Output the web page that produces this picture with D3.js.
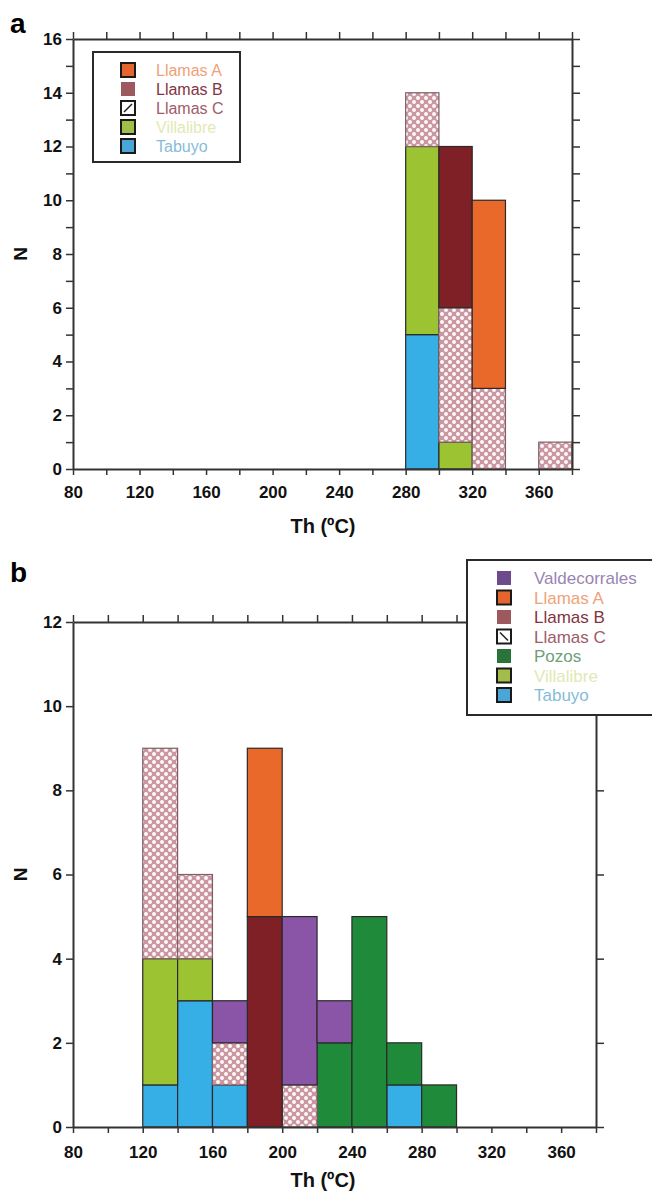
<!DOCTYPE html>
<html>
<head>
<meta charset="utf-8">
<script src="https://cdn.jsdelivr.net/npm/d3@7"></script>
<style>
body { margin: 0; background: #fff; }
svg text { font-family: "Liberation Sans", Arial, sans-serif; }
</style>
</head>
<body>
<svg id="chart" width="652" height="1191"></svg>
<script>
// ////////////////////////////////////////////////////////////////
// Th histograms (a, b)
// ////////////////////////////////////////////////////////////////

// panel a : bins of 20 ºC, counts per locality
const binsA       = [280, 300, 320, 340, 360];
const aTabuyo     = [5, 0, 0, 0, 0];
const aVillalibre = [7, 1, 0, 0, 0];
const aLlamasC    = [2, 5, 3, 0, 1];
const aLlamasB    = [0, 6, 0, 0, 0];
const aLlamasA    = [0, 0, 7, 0, 0];

// panel b
const binsB           = [120, 140, 160, 180, 200, 220, 240, 260, 280];
const bTabuyo         = [1, 3, 1, 0, 0, 0, 0, 1, 0];
const bVillalibre     = [3, 1, 0, 0, 0, 0, 0, 0, 0];
const bPozos          = [0, 0, 0, 0, 0, 2, 5, 1, 1];
const bLlamasC        = [5, 2, 1, 0, 1, 0, 0, 0, 0];
const bLlamasB        = [0, 0, 0, 5, 0, 0, 0, 0, 0];
const bLlamasA        = [0, 0, 0, 4, 0, 0, 0, 0, 0];
const bValdecorrales  = [0, 0, 1, 0, 4, 1, 0, 0, 0];

const xTickValues = [80, 100, 120, 140, 160, 180, 200, 220, 240, 260, 280, 300, 320, 340, 360, 380];
const xTickLabels = [80, 120, 160, 200, 240, 280, 320, 360];
const yTicksA = [0, 1, 2, 3, 4, 5, 6, 7, 8, 9, 10, 11, 12, 13, 14, 15, 16];
const yTicksB = [0, 2, 4, 6, 8, 10, 12];

const legendA = ['Llamas A', 'Llamas B', 'Llamas C', 'Villalibre', 'Tabuyo'];
const legendB = ['Valdecorrales', 'Llamas A', 'Llamas B', 'Llamas C', 'Pozos', 'Villalibre', 'Tabuyo'];

const binWidth = 20;

let styles = {
    'Tabuyo':        { fill: '#36afe6', text: '#86bcd9', swatch: '#4aa6d6', border: true },
    'Villalibre':    { fill: '#9cc432', text: '#e2e9b4', swatch: '#a2be48', border: true },
    'Pozos':         { fill: '#1f8a3a', text: '#6f9e78', swatch: '#2a743a', border: false },
    'Llamas C':      { fill: 'url(#dots)', text: '#a05c68', swatch: 'check', border: true },
    'Llamas B':      { fill: '#7e2026', text: '#83343f', swatch: '#9c5a5e', border: false },
    'Llamas A':      { fill: '#e9692a', text: '#eea27a', swatch: '#e4662e', border: true },
    'Valdecorrales': { fill: '#8a55a7', text: '#9a84b2', swatch: '#6d4a8c', border: false },
};

let svg = d3.select('#chart');

// pink / white dotted pattern for Llamas C
let pat = svg.append('defs')
    .append('pattern')
    .attr('id', 'dots')
    .attr('patternUnits', 'userSpaceOnUse')
    .attr('width', 8)
    .attr('height', 8);
pat.append('rect').attr('width', 8).attr('height', 8).attr('fill', '#c897a2');
pat.append('circle').attr('cx', 2).attr('cy', 2).attr('r', 2).attr('fill', '#fff6f6');
pat.append('circle').attr('cx', 6).attr('cy', 6).attr('r', 2).attr('fill', '#fff6f6');

function styleAxis (g) {
    g.select('.domain').attr('stroke', '#333').attr('stroke-width', 2);
    g.selectAll('.tick line').attr('stroke', '#333').attr('stroke-width', 1.5);
    g.selectAll('.tick text')
        .attr('fill', '#111')
        .attr('font-size', 17)
        .attr('font-weight', 'bold');
}

function drawPanel (p) {
    let x = d3.scaleLinear().domain([80, 380]).range([p.left, p.right]);
    let y = d3.scaleLinear().domain([0, p.yMax]).range([p.bottom, p.top]);

    let rows = p.bins.map((b, i) => {
        let row = { bin: b };
        p.keys.forEach((k) => { row[k] = p.series[k][i]; });
        return row;
    });

    let layers = d3.stack().keys(p.keys)(rows);

    let g = svg.append('g');

    layers.forEach((layer) => {
        g.selectAll(null)
            .data(layer.filter((d) => { return d[1] > d[0]; }))
            .enter()
            .append('rect')
            .attr('x', (d) => { return x(d.data.bin); })
            .attr('width', (d) => { return x(d.data.bin + binWidth) - x(d.data.bin); })
            .attr('y', (d) => { return y(d[1]); })
            .attr('height', (d) => { return y(d[0]) - y(d[1]); })
            .attr('fill', styles[layer.key].fill)
            .attr('stroke', layer.key == 'Llamas C' ? '#7d6068' : '#2a2a2a')
            .attr('stroke-width', 1.2);
    });

    // axes
    g.append('g')
        .attr('transform', 'translate(0,' + p.bottom + ')')
        .call(d3.axisBottom(x).tickValues(xTickValues).tickSize(6).tickSizeOuter(0)
            .tickPadding(p.xPad)
            .tickFormat((d) => { return xTickLabels.includes(d) ? d : ''; }))
        .call(styleAxis);

    g.append('g')
        .attr('transform', 'translate(0,' + p.top + ')')
        .call(d3.axisTop(x).tickValues(xTickValues.filter((d) => { return d % 20 == 0; }))
            .tickSize(7).tickSizeOuter(0).tickFormat(''))
        .call(styleAxis);

    g.append('g')
        .attr('transform', 'translate(' + p.left + ',0)')
        .call(d3.axisLeft(y).tickValues(p.yTicks).tickSize(7).tickSizeOuter(0).tickPadding(4)
            .tickFormat((d) => { return d % 2 ? '' : d; }))
        .call(styleAxis);

    g.append('g')
        .attr('transform', 'translate(' + p.right + ',0)')
        .call(d3.axisRight(y).tickValues(p.yTicks).tickSize(8).tickSizeOuter(0).tickFormat(''))
        .call(styleAxis);

    // titles
    g.append('text')
        .attr('x', 323)
        .attr('y', p.xTitleY)
        .attr('text-anchor', 'middle')
        .attr('font-size', 20)
        .attr('font-weight', 'bold')
        .attr('fill', '#111')
        .text('Th (ºC)');

    g.append('text')
        .attr('transform', 'translate(27,' + ((p.top + p.bottom) / 2) + ') rotate(-90)')
        .attr('text-anchor', 'middle')
        .attr('font-size', 19)
        .attr('font-weight', 'bold')
        .attr('fill', '#111')
        .text('N');

    g.append('text')
        .attr('x', 10)
        .attr('y', p.letterY)
        .attr('font-size', 28)
        .attr('font-weight', 'bold')
        .attr('fill', '#000')
        .text(p.letter);

    // legend
    let lg = g.append('g');
    lg.append('rect')
        .attr('x', p.legend.x)
        .attr('y', p.legend.y)
        .attr('width', p.legend.w)
        .attr('height', p.legend.h)
        .attr('fill', '#fff')
        .attr('stroke', '#2a2a2a')
        .attr('stroke-width', 2);

    let items = lg.selectAll('g.item')
        .data(p.legend.names)
        .enter()
        .append('g')
        .attr('class', 'item')
        .attr('transform', (d, i) => {
            return 'translate(0,' + (p.legend.y0 + i * p.legend.step) + ')';
        });

    items.append('rect')
        .attr('x', p.legend.sx)
        .attr('y', -7)
        .attr('width', 14)
        .attr('height', 14)
        .attr('fill', (d) => { return styles[d].swatch == 'check' ? '#fff' : styles[d].swatch; })
        .attr('stroke', (d) => { return styles[d].border ? '#1a1a1a' : 'none'; })
        .attr('stroke-width', 2);

    items.filter((d) => { return styles[d].swatch == 'check'; })
        .append('line')
        .attr('x1', p.legend.sx + 3)
        .attr('y1', p.legend.diag ? -4 : 4)
        .attr('x2', p.legend.sx + 11)
        .attr('y2', p.legend.diag ? 4 : -4)
        .attr('stroke', '#1a1a1a')
        .attr('stroke-width', 1.5);

    items.append('text')
        .attr('x', p.legend.tx)
        .attr('y', 0)
        .attr('dy', '0.36em')
        .attr('font-size', p.legend.fontSize)
        .attr('fill', (d) => { return styles[d].text; })
        .text((d) => { return d; });
}

drawPanel({
    letter: 'a', letterY: 33,
    left: 73, right: 572, top: 39, bottom: 469,
    yMax: 16, yTicks: yTicksA, xPad: 11, xTitleY: 533,
    bins: binsA,
    keys: ['Tabuyo', 'Villalibre', 'Llamas C', 'Llamas B', 'Llamas A'],
    series: {
        'Tabuyo': aTabuyo, 'Villalibre': aVillalibre, 'Llamas C': aLlamasC,
        'Llamas B': aLlamasB, 'Llamas A': aLlamasA
    },
    legend: {
        x: 93, y: 52, w: 147, h: 110, names: legendA,
        y0: 70, step: 19, sx: 121, tx: 156, fontSize: 16, diag: false
    }
});

drawPanel({
    letter: 'b', letterY: 582,
    left: 73, right: 596, top: 622, bottom: 1127,
    yMax: 12, yTicks: yTicksB, xPad: 13, xTitleY: 1187,
    bins: binsB,
    keys: ['Tabuyo', 'Villalibre', 'Pozos', 'Llamas C', 'Llamas B', 'Llamas A', 'Valdecorrales'],
    series: {
        'Tabuyo': bTabuyo, 'Villalibre': bVillalibre, 'Pozos': bPozos,
        'Llamas C': bLlamasC, 'Llamas B': bLlamasB, 'Llamas A': bLlamasA,
        'Valdecorrales': bValdecorrales
    },
    legend: {
        x: 467, y: 560, w: 200, h: 155, names: legendB,
        y0: 578, step: 19.5, sx: 497, tx: 534, fontSize: 17, diag: true
    }
});
</script>
</body>
</html>
